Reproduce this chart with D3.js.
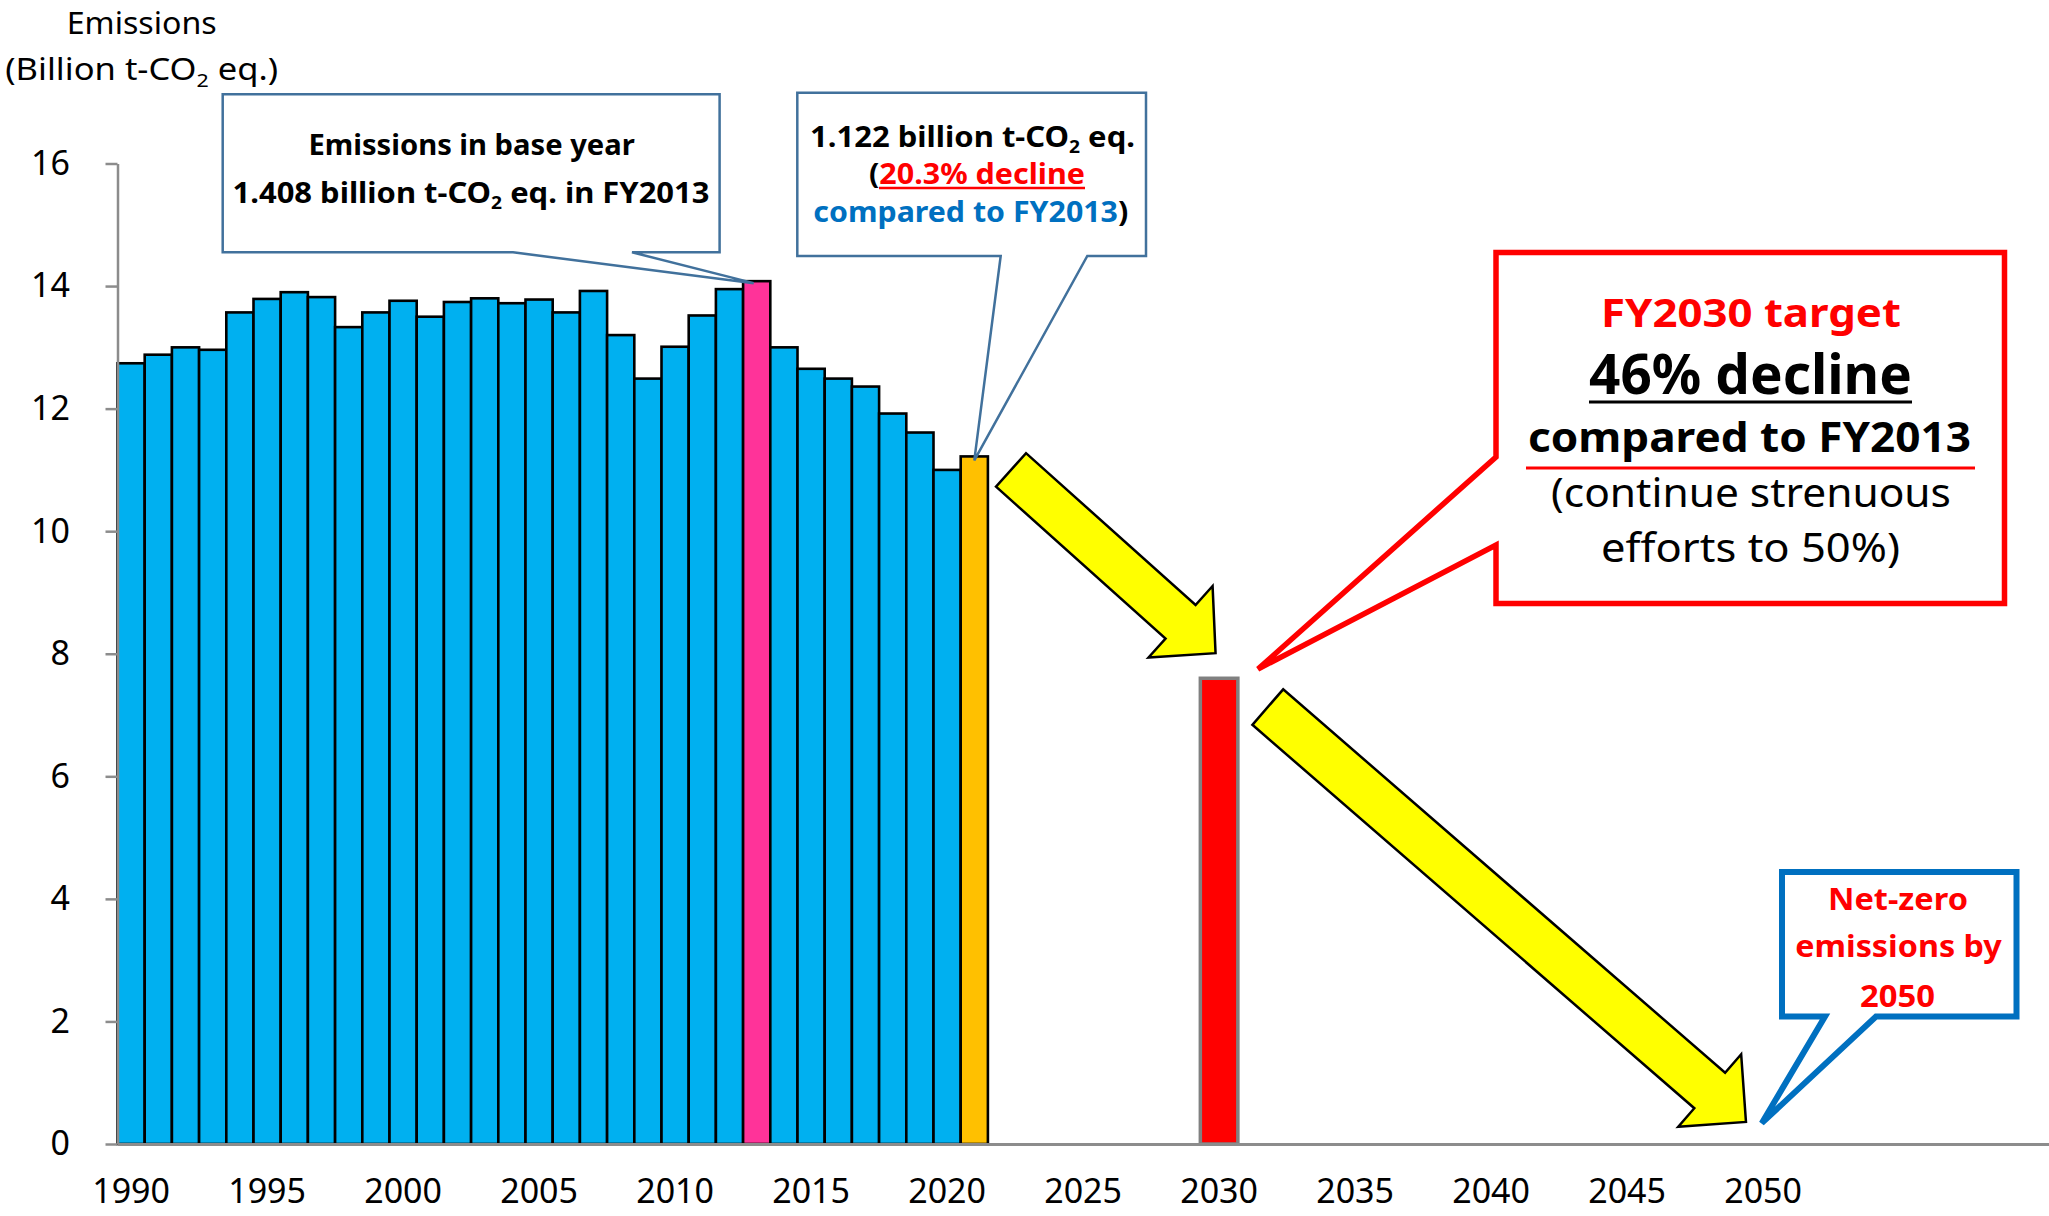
<!DOCTYPE html>
<html><head><meta charset="utf-8">
<script src="https://cdn.jsdelivr.net/npm/d3@7"></script>
<style>html,body{margin:0;padding:0;background:#fff;}svg{display:block;}</style>
</head><body>
<script>
// ---------- data ----------
const histYears = [1990,1991,1992,1993,1994,1995,1996,1997,1998,1999,2000,2001,2002,2003,2004,2005,2006,2007,2008,2009,2010,2011,2012,2013,2014,2015,2016,2017,2018,2019,2020,2021];
const histValues = [12.74,12.88,13.00,12.96,13.57,13.79,13.90,13.82,13.33,13.57,13.76,13.50,13.74,13.80,13.72,13.78,13.57,13.92,13.20,12.49,13.01,13.52,13.95,14.08,13.00,12.65,12.49,12.36,11.92,11.61,11.00,11.22];
const baseYear = 2013;
const latestYear = 2021;
const targetYears = [2030];
const targetValues = [7.60];
const xTickYears = [1990,1995,2000,2005,2010,2015,2020,2025,2030,2035,2040,2045,2050];
const yTicks = [0,2,4,6,8,10,12,14,16];
// arrows in data space: [yearPos, value] tail centre -> apex
const arrowTails = [[2022.85, 11.0],[2032.29, 7.13]];
const arrowHeads = [[2030.37, 8.01],[2049.87, 0.36]];
const targetPoint = [2031.93, 7.75];
const netZeroPoint = [2050.45, 0.34];

const W = 2049, H = 1216;
const FONT = "'Noto Sans', 'Open Sans', sans-serif";
const svg = d3.select("body").append("svg").attr("width", W).attr("height", H);

const allYears = d3.range(1990, 2061);
const x = d3.scaleBand().domain(allYears).range([117.5, 117.5 + 71 * 27.2]).padding(0);
const xl = d3.scaleLinear().domain([1990, 2061]).range([117.5, 117.5 + 71 * 27.2]);
const y = d3.scaleLinear().domain([0, 16]).range([1144, 163.5]);

const colorFor = yr => yr === baseYear ? "#FF3399" : (yr === latestYear ? "#FFC000" : "#00B0F0");

// bars
svg.append("g").selectAll("rect").data(histYears).join("rect")
  .attr("x", d => x(d)).attr("width", x.bandwidth())
  .attr("y", (d, i) => y(histValues[i])).attr("height", (d, i) => y(0) - y(histValues[i]))
  .attr("fill", d => colorFor(d)).attr("stroke", "#000").attr("stroke-width", 2.6);

svg.append("g").selectAll("rect").data(targetYears).join("rect")
  .attr("x", d => x(d) + x.bandwidth() / 2 - x.bandwidth() * 0.69)
  .attr("width", x.bandwidth() * 1.38)
  .attr("y", (d, i) => y(targetValues[i])).attr("height", (d, i) => y(0) - y(targetValues[i]))
  .attr("fill", "#FF0000").attr("stroke", "#808080").attr("stroke-width", 3.5);

// axes
const yAxis = svg.append("g").attr("transform", `translate(117.5,0)`)
  .call(d3.axisLeft(y).tickValues(yTicks).tickSize(12).tickSizeOuter(0).tickPadding(35.5));
const xAxis = svg.append("g").attr("transform", `translate(0,${y(0)})`)
  .call(d3.axisBottom(x).tickValues(xTickYears).tickSize(0).tickPadding(35));
[yAxis, xAxis].forEach(g => {
  g.selectAll("path,line").attr("stroke", "#8C8C8C").attr("stroke-width", 2.5);
  g.selectAll("text").attr("font-family", FONT).attr("font-size", 34).attr("fill", "#000");
});
xAxis.select("path").attr("stroke-width", 3);

// ---------- helpers ----------
function textLine(parent, cx, baseline, targetW, size, weight, parts) {
  const t = parent.append("text").attr("x", cx).attr("y", baseline)
    .attr("text-anchor", "middle").attr("font-family", FONT)
    .attr("font-size", size).attr("font-weight", weight);
  let pending = 0;
  parts.forEach(p => {
    const s = t.append("tspan").text(p.t).attr("fill", p.c || "#000");
    if (p.sub) {
      s.attr("font-size", size * 0.62).attr("dy", size * 0.22 - pending);
      pending = size * 0.22;
    } else if (pending) {
      s.attr("dy", -pending); pending = 0;
    }
  });
  const w = t.node().getBBox().width;
  if (targetW && w > 0) {
    const k = targetW / w;
    t.attr("transform", `translate(${cx},0) scale(${k},1) translate(${-cx},0)`);
  }
  return t;
}
function arrowPath(t, h, shaftW, headW, headL) {
  const dx = h[0] - t[0], dy = h[1] - t[1], L = Math.hypot(dx, dy);
  const ux = dx / L, uy = dy / L, nx = -uy, ny = ux;
  const b = [h[0] - ux * headL, h[1] - uy * headL];
  const P = (p, n) => [p[0] + nx * n, p[1] + ny * n];
  const pts = [P(t, shaftW / 2), P(b, shaftW / 2), P(b, headW / 2), h, P(b, -headW / 2), P(b, -shaftW / 2), P(t, -shaftW / 2)];
  return "M" + pts.map(p => p.join(",")).join("L") + "Z";
}
const px = p => [xl(p[0]), y(p[1])];

// ---------- arrows ----------
const arrowDims = [[45, 96, 47], [47, 96, 48]];
arrowTails.forEach((tl, i) => {
  svg.append("path").attr("d", arrowPath(px(tl), px(arrowHeads[i]), ...arrowDims[i]))
    .attr("fill", "#FFFF00").attr("stroke", "#000").attr("stroke-width", 2.5).attr("stroke-linejoin", "miter");
});

// ---------- axis title ----------
const ann = svg.append("g");
textLine(ann, 141.7, 34, 150, 30, 400, [{t: "Emissions"}]);
textLine(ann, 141.7, 80, 273, 30, 400, [{t: "(Billion t-CO"}, {t: "2", sub: true}, {t: " eq.)"}]);

// ---------- callout 1 (base year) ----------
const i13 = histYears.indexOf(baseYear);
const tip1 = [x(baseYear) + x.bandwidth() / 2 - 3, y(histValues[i13]) + 2];
svg.append("path")
  .attr("d", `M222.7,94.3H719.6V252.3H632L${tip1[0]},${tip1[1]}L513,252.3H222.7Z`)
  .attr("fill", "#fff").attr("stroke", "#41719C").attr("stroke-width", 2.5).attr("stroke-linejoin", "miter");
textLine(svg, 471.6, 155, 327, 28, 700, [{t: "Emissions in base year"}]);
textLine(svg, 471, 203, 477, 28, 700, [{t: "1.408 billion t-CO"}, {t: "2", sub: true}, {t: " eq. in FY2013"}]);

// ---------- callout 2 (latest year) ----------
const i21 = histYears.indexOf(latestYear);
const tip2 = [x(latestYear) + x.bandwidth() / 2, y(histValues[i21]) + 4];
svg.append("path")
  .attr("d", `M797.3,92.7H1146V256H1087.3L${tip2[0]},${tip2[1]}L1000.7,256H797.3Z`)
  .attr("fill", "#fff").attr("stroke", "#41719C").attr("stroke-width", 2.5).attr("stroke-linejoin", "miter");
textLine(svg, 972.5, 146.7, 325, 28, 700, [{t: "1.122 billion t-CO"}, {t: "2", sub: true}, {t: " eq."}]);
textLine(svg, 977, 184, 216, 28, 700, [{t: "("}, {t: "20.3% decline", c: "#FF0000"}]);
svg.append("line").attr("x1", 879).attr("x2", 1085).attr("y1", 188).attr("y2", 188)
  .attr("stroke", "#FF0000").attr("stroke-width", 2.5);
textLine(svg, 970.8, 221.7, 315, 28, 700, [{t: "compared to FY2013", c: "#0070C0"}, {t: ")"}]);

// ---------- callout 3 (FY2030 target) ----------
const tip3 = px(targetPoint);
svg.append("path")
  .attr("d", `M1496,252.5H2004.5V603.5H1496V545L${tip3[0]},${tip3[1]}L1496,457Z`)
  .attr("fill", "#fff").attr("stroke", "#FF0000").attr("stroke-width", 5.5).attr("stroke-linejoin", "miter");
textLine(svg, 1751, 327, 300, 40, 700, [{t: "FY2030 target", c: "#FF0000"}]);
textLine(svg, 1750.5, 394, 323, 56, 700, [{t: "46% decline"}]);
svg.append("line").attr("x1", 1589).attr("x2", 1912).attr("y1", 402).attr("y2", 402)
  .attr("stroke", "#000").attr("stroke-width", 3);
textLine(svg, 1749.5, 452, 443, 42, 700, [{t: "compared to FY2013"}]);
svg.append("line").attr("x1", 1526).attr("x2", 1975).attr("y1", 468).attr("y2", 468)
  .attr("stroke", "#FF0000").attr("stroke-width", 3);
textLine(svg, 1751, 507, 400, 40, 400, [{t: "(continue strenuous"}]);
textLine(svg, 1750.5, 562, 299, 40, 400, [{t: "efforts to 50%)"}]);

// ---------- callout 4 (net zero) ----------
const tip4 = px(netZeroPoint);
svg.append("path")
  .attr("d", `M1782,872H2016.5V1016.5H1876L${tip4[0]},${tip4[1]}L1825,1016.5H1782Z`)
  .attr("fill", "#fff").attr("stroke", "#0070C0").attr("stroke-width", 6).attr("stroke-linejoin", "miter");
textLine(svg, 1898, 910, 140, 31, 700, [{t: "Net-zero", c: "#FF0000"}]);
textLine(svg, 1898.5, 957, 207, 31, 700, [{t: "emissions by", c: "#FF0000"}]);
textLine(svg, 1897.5, 1007, 75, 31, 700, [{t: "2050", c: "#FF0000"}]);
</script>
</body></html>
